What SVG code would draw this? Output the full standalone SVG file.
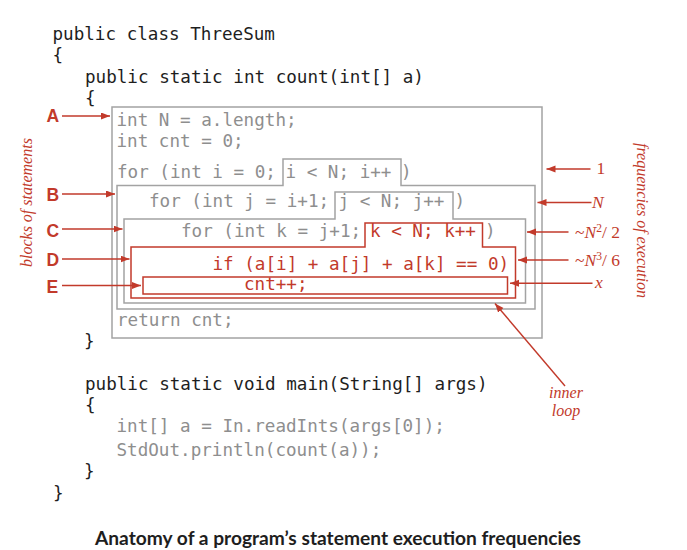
<svg xmlns="http://www.w3.org/2000/svg" width="687" height="550" viewBox="0 0 687 550">
<defs>
<style>
.code{font-family:"DejaVu Sans Mono","Liberation Mono",monospace;font-size:17.6px}
.blk{fill:#1e1e1e}
.gry{fill:#8e8e8e}
.red{fill:#c23a2b}
.gbox{fill:none;stroke:#a3a3a3;stroke-width:1.5}
.rbox{fill:none;stroke:#c23a2b;stroke-width:1.5}
.arr{stroke:#c23a2b;stroke-width:1.4;fill:none;marker-end:url(#ah)}
.lbl{font-family:"Liberation Sans",Arial,sans-serif;font-weight:bold;font-size:17.5px;fill:#c23a2b}
.it{font-family:"Liberation Serif","Times New Roman",serif;font-style:italic;font-size:16px;fill:#c23a2b}
.fr{font-family:"Liberation Serif","Times New Roman",serif;font-size:17.5px;fill:#c23a2b}
</style>
<marker id="ah" markerUnits="userSpaceOnUse" markerWidth="10" markerHeight="8" refX="9" refY="3.5" orient="auto">
<path d="M0,0 L9,3.5 L0,7 Z" fill="#c23a2b"/>
</marker>
</defs>
<rect width="687" height="550" fill="#ffffff"/>

<g id="code">
<text class="code blk" x="52.5" y="40">public class ThreeSum</text>
<text class="code blk" x="52.5" y="61">{</text>
<text class="code blk" x="85" y="83">public static int count(int[] a)</text>
<text class="code blk" x="85" y="104">{</text>
<text class="code blk" x="84" y="347">}</text>
<text class="code blk" x="85" y="390">public static void main(String[] args)</text>
<text class="code blk" x="85" y="411">{</text>
<text class="code gry" x="116.5" y="432.3">int[] a = In.readInts(args[0]);</text>
<text class="code gry" x="116.5" y="456">StdOut.println(count(a));</text>
<text class="code blk" x="84" y="477">}</text>
<text class="code blk" x="53" y="499">}</text>
</g>

<g id="blockA">
<rect class="gbox" x="112" y="107" width="430" height="231"/>
<text class="code gry" x="116.5" y="125.5">int N = a.length;</text>
<text class="code gry" x="116.5" y="146.5">int cnt = 0;</text>
<text class="code gry" x="117" y="177.5">for (int i = 0;</text>
<text class="code gry" x="285.5" y="177.5">i &lt; N; i++</text>
<text class="code gry" x="401" y="177.5">)</text>
<text class="code gry" x="117" y="325.7">return cnt;</text>
</g>

<g id="blockB">
<path class="gbox" d="M117,185.5 H283 V159 H401 V185.5 H535 V309 H117 Z"/>
<text class="code gry" x="149" y="206.7">for (int j = i+1;</text>
<text class="code gry" x="338.5" y="206.7">j &lt; N; j++</text>
<text class="code gry" x="454.5" y="206.7">)</text>
</g>

<g id="blockC">
<path class="gbox" d="M124,219 H335 V192 H453 V219 H525.5 V303 H124 Z"/>
<text class="code gry" x="181" y="237.3">for (int k = j+1;</text>
<text class="code red" x="370" y="237.3">k &lt; N; k++</text>
<text class="code gry" x="485" y="237.3">)</text>
</g>

<g id="blockD">
<path class="rbox" d="M131,247 H365 V223 H482.5 V247 H515.5 V298 H131 Z"/>
<text class="code red" x="212.5" y="269.5">if (a[i] + a[j] + a[k] == 0)</text>
</g>

<g id="blockE">
<rect class="rbox" x="143" y="277" width="364.5" height="17"/>
<text class="code red" x="244" y="290">cnt++;</text>
</g>

<g id="labels-left">
<text class="lbl" x="46.5" y="122.3">A</text>
<text class="lbl" x="46.5" y="200.7">B</text>
<text class="lbl" x="46.5" y="236.5">C</text>
<text class="lbl" x="46.5" y="266">D</text>
<text class="lbl" x="46.5" y="292.7">E</text>
<text class="it" transform="translate(32,267) rotate(-90)">blocks of statements</text>
</g>

<g id="labels-right">
<text class="fr" x="596.5" y="173.5">1</text>
<text class="fr" x="592" y="207.5"><tspan font-style="italic">N</tspan></text>
<text class="fr" x="575" y="238">~<tspan font-style="italic">N</tspan><tspan font-size="11.5" dy="-6.5">2</tspan><tspan dy="6.5">/ 2</tspan></text>
<text class="fr" x="575" y="266">~<tspan font-style="italic">N</tspan><tspan font-size="11.5" dy="-6.5">3</tspan><tspan dy="6.5">/ 6</tspan></text>
<text class="fr" x="595" y="287.5"><tspan font-style="italic">x</tspan></text>
<text class="it" transform="translate(637,143) rotate(90)" font-size="16.8">frequencies of execution</text>
<text class="it" x="566" y="398" text-anchor="middle">inner</text>
<text class="it" x="566" y="415.5" text-anchor="middle">loop</text>
</g>

<g id="connectors">
<line class="arr" x1="62" y1="116" x2="110" y2="116"/>
<line class="arr" x1="62" y1="194" x2="115" y2="194"/>
<line class="arr" x1="62" y1="229" x2="122.5" y2="229"/>
<line class="arr" x1="62" y1="259" x2="129.5" y2="259"/>
<line class="arr" x1="62" y1="285.5" x2="141" y2="285.5"/>
<line class="arr" x1="590.5" y1="169" x2="546.5" y2="169"/>
<line class="arr" x1="591.5" y1="202.5" x2="537.5" y2="202.5"/>
<line class="arr" x1="568.5" y1="232" x2="527" y2="232"/>
<line class="arr" x1="568.5" y1="260" x2="518" y2="260"/>
<line class="arr" x1="592.5" y1="283.3" x2="510" y2="283.3"/>
<line class="arr" x1="565" y1="386" x2="495" y2="303.5"/>
</g>

<text x="95" y="545" font-family="Lato,'Liberation Sans',sans-serif" font-weight="bold" font-size="18.5" fill="#1e1e1e" textLength="486" lengthAdjust="spacingAndGlyphs">Anatomy of a program’s statement execution frequencies</text>
</svg>
